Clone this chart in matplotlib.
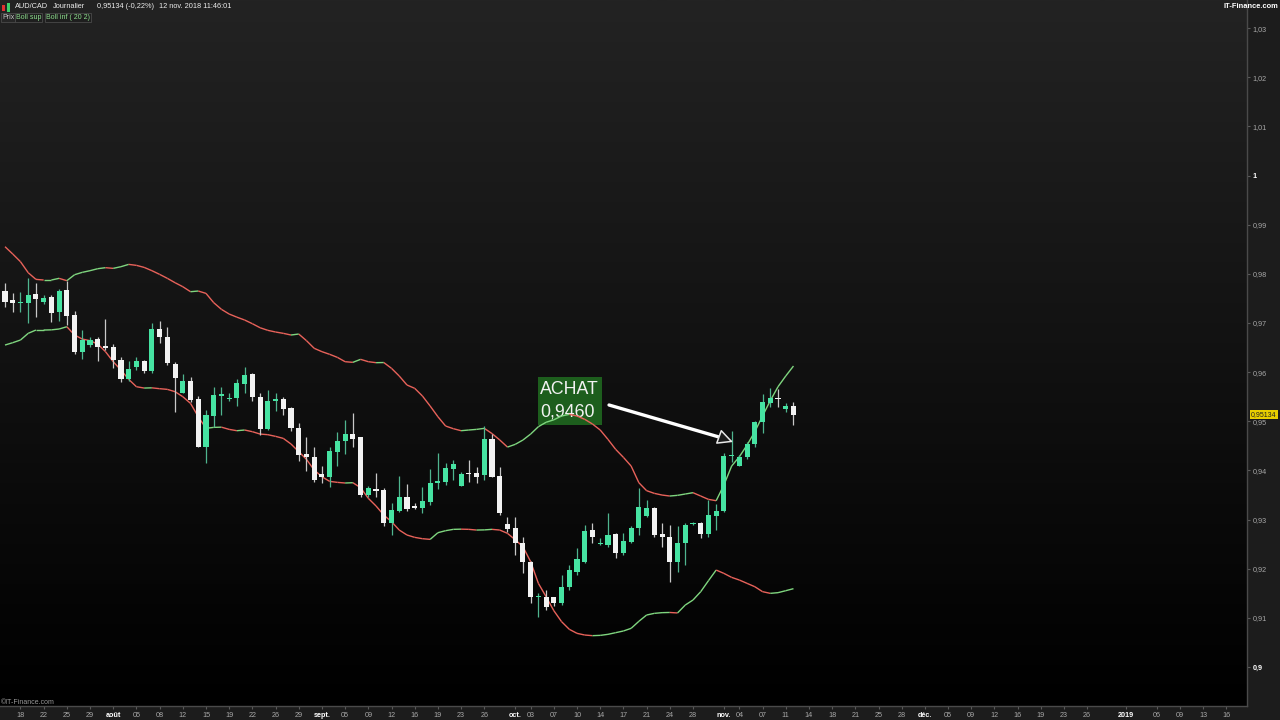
import numpy as np
import matplotlib
matplotlib.use("Agg")
import matplotlib.pyplot as plt
from matplotlib.collections import LineCollection
from matplotlib.colors import LinearSegmentedColormap
from matplotlib.patches import Rectangle
from matplotlib.transforms import blended_transform_factory

plt.rcParams['font.family'] = ['Liberation Sans', 'DejaVu Sans']

# AUD/CAD daily candles, 16 juil. -> 12 nov. 2018 (Sun-Fri sessions)
opens = [0.97650, 0.97460, 0.97406, 0.97399, 0.97582, 0.97426, 0.97521, 0.97216, 0.97670, 0.97168,
         0.96416, 0.96551, 0.96673, 0.96538, 0.96510, 0.96246, 0.95859, 0.96097, 0.96226, 0.96022,
         0.96884, 0.96721, 0.96165, 0.95581, 0.95826, 0.95446, 0.94483, 0.95107, 0.95520, 0.95446,
         0.95466, 0.95758, 0.95961, 0.95500, 0.94842, 0.95419, 0.95446, 0.95263, 0.94869, 0.94327,
         0.94279, 0.93927, 0.93859, 0.94374, 0.94598, 0.94740, 0.94673, 0.93493, 0.93628, 0.93601,
         0.92923, 0.93181, 0.93452, 0.93275, 0.93228, 0.93364, 0.93736, 0.93770, 0.94028, 0.93689,
         0.93933, 0.93940, 0.93906, 0.94638, 0.93886, 0.92909, 0.92822, 0.92530, 0.92143, 0.91418,
         0.91431, 0.91418, 0.91309, 0.91635, 0.91940, 0.92143, 0.92788, 0.92496, 0.92482, 0.92706,
         0.92326, 0.92550, 0.92822, 0.93072, 0.93228, 0.92706, 0.92652, 0.92143, 0.92516, 0.92909,
         0.92936, 0.92706, 0.93072, 0.93174, 0.94293, 0.94096, 0.94279, 0.94537, 0.94978, 0.95378,
         0.95480, 0.95242, 0.95317]
highs = [0.97806, 0.97602, 0.97636, 0.97921, 0.97806, 0.97562, 0.97569, 0.97697, 0.97860, 0.97250,
         0.96856, 0.96707, 0.96707, 0.97080, 0.96565, 0.96300, 0.96232, 0.96314, 0.96246, 0.97006,
         0.97046, 0.96924, 0.96199, 0.95961, 0.95907, 0.95513, 0.95230, 0.95690, 0.95704, 0.95568,
         0.95853, 0.96110, 0.95975, 0.95568, 0.95636, 0.95568, 0.95500, 0.95297, 0.94958, 0.94673,
         0.94469, 0.94089, 0.94469, 0.94774, 0.95025, 0.95161, 0.94673, 0.93689, 0.93954, 0.93649,
         0.93330, 0.93893, 0.93723, 0.93330, 0.93669, 0.94021, 0.94347, 0.94157, 0.94211, 0.93974,
         0.94211, 0.94076, 0.94903, 0.94740, 0.94076, 0.93059, 0.93059, 0.92652, 0.92157, 0.91499,
         0.91567, 0.91431, 0.91872, 0.92076, 0.92415, 0.92889, 0.92923, 0.92618, 0.93140, 0.92720,
         0.92720, 0.92869, 0.93635, 0.93398, 0.93249, 0.92923, 0.92889, 0.92869, 0.92923, 0.92957,
         0.92957, 0.93398, 0.93316, 0.94361, 0.94808, 0.94313, 0.94584, 0.95012, 0.95547, 0.95670,
         0.95649, 0.95364, 0.95398]
lows = [0.97318, 0.97229, 0.97229, 0.97006, 0.97114, 0.97385, 0.97012, 0.97046, 0.96958, 0.96361,
        0.96266, 0.96517, 0.96232, 0.96449, 0.96090, 0.95805, 0.95826, 0.96043, 0.95975, 0.95975,
        0.96585, 0.96144, 0.95195, 0.95568, 0.95398, 0.94469, 0.94157, 0.94890, 0.95127, 0.95419,
        0.95310, 0.95568, 0.95419, 0.94720, 0.94822, 0.95215, 0.95127, 0.94808, 0.94198, 0.93994,
        0.93771, 0.93737, 0.93669, 0.94089, 0.94334, 0.94469, 0.93465, 0.93465, 0.93465, 0.92869,
        0.92686, 0.93160, 0.93181, 0.93208, 0.93140, 0.93296, 0.93614, 0.93702, 0.93804, 0.93682,
        0.93770, 0.93750, 0.93804, 0.93859, 0.93092, 0.92753, 0.92279, 0.91906, 0.91296, 0.91024,
        0.91160, 0.91241, 0.91262, 0.91567, 0.91872, 0.92109, 0.92516, 0.92482, 0.92449, 0.92211,
        0.92279, 0.92530, 0.92686, 0.93059, 0.92652, 0.92448, 0.91736, 0.91940, 0.92075, 0.92889,
        0.92618, 0.92652, 0.92787, 0.93160, 0.94178, 0.94089, 0.94225, 0.94469, 0.94768, 0.95297,
        0.95297, 0.95195, 0.94924]
closes = [0.97433, 0.97413, 0.97426, 0.97562, 0.97480, 0.97508, 0.97195, 0.97657, 0.97141, 0.96416,
          0.96653, 0.96653, 0.96517, 0.96497, 0.96246, 0.95853, 0.96070, 0.96226, 0.96022, 0.96870,
          0.96721, 0.96178, 0.95887, 0.95826, 0.95432, 0.94469, 0.95121, 0.95534, 0.95541, 0.95466,
          0.95771, 0.95948, 0.95500, 0.94835, 0.95419, 0.95446, 0.95242, 0.94856, 0.94313, 0.94279,
          0.93805, 0.93859, 0.94401, 0.94605, 0.94740, 0.94645, 0.93499, 0.93635, 0.93588, 0.92936,
          0.93194, 0.93452, 0.93208, 0.93242, 0.93377, 0.93750, 0.93784, 0.94042, 0.94123, 0.93926,
          0.93920, 0.93872, 0.94638, 0.93872, 0.93126, 0.92808, 0.92516, 0.92143, 0.91418, 0.91438,
          0.91214, 0.91309, 0.91621, 0.91974, 0.92191, 0.92774, 0.92638, 0.92516, 0.92686, 0.92326,
          0.92564, 0.92822, 0.93262, 0.93228, 0.92686, 0.92638, 0.92143, 0.92516, 0.92889, 0.92930,
          0.92699, 0.93092, 0.93181, 0.94300, 0.94306, 0.94279, 0.94537, 0.94978, 0.95398, 0.95480,
          0.95446, 0.95317, 0.95134]

# Bollinger (20, 2) bands as drawn
boll_sup = [0.98552, 0.98403, 0.98247, 0.98023, 0.97887, 0.97874, 0.97874, 0.97908, 0.97860, 0.97982,
            0.98030, 0.98064, 0.98104, 0.98125, 0.98111, 0.98145, 0.98192, 0.98172, 0.98131, 0.98064,
            0.97989, 0.97908, 0.97819, 0.97738, 0.97636, 0.97650, 0.97602, 0.97413, 0.97277, 0.97182,
            0.97118, 0.97060, 0.96985, 0.96903, 0.96850, 0.96816, 0.96789, 0.96755, 0.96775, 0.96640,
            0.96484, 0.96416, 0.96362, 0.96300, 0.96212, 0.96199, 0.96260, 0.96212, 0.96192, 0.96195,
            0.96077, 0.95921, 0.95738, 0.95670, 0.95514, 0.95310, 0.95093, 0.94903, 0.94849, 0.94808,
            0.94822, 0.94835, 0.94856, 0.94750, 0.94620, 0.94475, 0.94530, 0.94618, 0.94740, 0.94890,
            0.94980, 0.95030, 0.95107, 0.95141, 0.95107, 0.95039, 0.94944, 0.94822, 0.94632, 0.94428,
            0.94266, 0.94089, 0.93750, 0.93588, 0.93533, 0.93499, 0.93479, 0.93493, 0.93520, 0.93547,
            0.93479, 0.93411, 0.93384, 0.93703, 0.94089, 0.94279, 0.94517, 0.94788, 0.95107, 0.95419,
            0.95703, 0.95921, 0.96124]
boll_inf = [0.96551, 0.96599, 0.96653, 0.96789, 0.96856, 0.96856, 0.96860, 0.96877, 0.96924, 0.96755,
            0.96673, 0.96639, 0.96571, 0.96416, 0.96212, 0.96043, 0.95853, 0.95703, 0.95676, 0.95680,
            0.95663, 0.95649, 0.95602, 0.95500, 0.95364, 0.95093, 0.94856, 0.94876, 0.94880, 0.94835,
            0.94808, 0.94822, 0.94788, 0.94740, 0.94727, 0.94693, 0.94652, 0.94537, 0.94381, 0.94225,
            0.94008, 0.93872, 0.93777, 0.93757, 0.93744, 0.93750, 0.93649, 0.93432, 0.93276, 0.93092,
            0.92957, 0.92787, 0.92686, 0.92638, 0.92611, 0.92597, 0.92733, 0.92774, 0.92801, 0.92805,
            0.92801, 0.92787, 0.92790, 0.92801, 0.92787, 0.92720, 0.92590, 0.92449, 0.92143, 0.91702,
            0.91431, 0.91146, 0.90923, 0.90767, 0.90685, 0.90651, 0.90638, 0.90644, 0.90665, 0.90699,
            0.90733, 0.90787, 0.90930, 0.91058, 0.91092, 0.91106, 0.91110, 0.91100, 0.91261, 0.91363,
            0.91533, 0.91756, 0.91973, 0.91905, 0.91824, 0.91770, 0.91702, 0.91634, 0.91533, 0.91499,
            0.91513, 0.91553, 0.91594]

# date axis: session index -> label
tick_idx = [2, 5, 8, 11, 14, 17, 20, 23, 26, 29, 32, 35, 38, 41, 44, 47, 50, 53, 56, 59, 62,
            66, 68, 71, 74, 77, 80, 83, 86, 89, 93, 95, 98, 101, 104, 107, 110, 113, 116,
            119, 122, 125, 128, 131, 134, 137, 140, 145, 149, 152, 155, 158]
tick_labels = ['18', '22', '25', '29', 'août', '05', '08', '12', '15', '19', '22', '26', '29',
               'sept.', '05', '09', '12', '16', '19', '23', '26', 'oct.', '03', '07', '10', '14',
               '17', '21', '24', '28', 'nov.', '04', '07', '11', '14', '18', '21', '25', '28',
               'déc.', '05', '09', '12', '16', '19', '23', '26', '2019', '06', '09', '13', '16']
month_labels = ['août', 'sept.', 'oct.', 'nov.', 'déc.', '2019']

price_ticks = [0.90, 0.91, 0.92, 0.93, 0.94, 0.95, 0.96, 0.97, 0.98, 0.99, 1.00, 1.01, 1.02, 1.03]
last_price = 0.95134
signal_text = ["ACHAT", "0,9460"]

CANDLE_UP = '#46e3a2'
CANDLE_DN = '#f2f2f2'
BAND_UP = '#7fd67f'
BAND_DN = '#e8625a'

W, H = 1280, 720
fig = plt.figure(figsize=(12.8, 7.2), dpi=100, facecolor='#1c1c1c')
ax = fig.add_axes([0, 14 / H, 1247 / W, 706 / H])
ax.set_facecolor('black')

x0, x1 = -0.647, 160.67
y0, y1 = 0.89207, 1.03571
ax.set_xlim(x0, x1)
ax.set_ylim(y0, y1)

# background gradient
grad = LinearSegmentedColormap.from_list('bg', ['#000000', '#232323'])
ax.imshow(np.linspace(0, 1, 256)[:, None], cmap=grad, aspect='auto', origin='lower',
          extent=[0, 1, 0, 1], transform=ax.transAxes, zorder=0)

# signal box under the bands
ax.add_patch(Rectangle((68.95, 0.94924), 77.23 - 68.95, 0.95900 - 0.94924,
                       facecolor='#1d5e1d', edgecolor='none', zorder=1))
ax.text(69.21, 0.95656, signal_text[0], color='#f2f2f2', fontsize=12.8, va='center', ha='left', zorder=2)
ax.text(69.21, 0.95188, signal_text[1], color='#f2f2f2', fontsize=12.8, va='center', ha='left', zorder=2)

# bollinger bands, coloured by slope
x = np.arange(len(closes))
for band in (boll_sup, boll_inf):
    v = np.asarray(band)
    pts = np.column_stack([x, v])
    segs = np.stack([pts[:-1], pts[1:]], axis=1)
    cols = np.where(np.diff(v) >= 0, BAND_UP, BAND_DN)
    ax.add_collection(LineCollection(segs, colors=cols, linewidths=1.0, zorder=3))

# candles
o = np.asarray(opens)
c = np.asarray(closes)
up = c >= o
wick_cols = np.where(up, '#4fb58f', '#c8c8c8')
ax.vlines(x, lows, highs, colors=wick_cols, linewidth=0.9, zorder=4)
body_lo = np.minimum(o, c)
body_h = np.maximum(np.abs(c - o), 0.0003)
ax.bar(x, body_h, bottom=body_lo, width=0.66, color=np.where(up, CANDLE_UP, CANDLE_DN),
       linewidth=0, zorder=5)

# arrow to the entry: thick shaft, thin hollow head
tip = (94.18, 0.94578)
base = (92.56, 0.94671)
ax.annotate('', xy=base, xytext=(78.14, 0.95331),
            arrowprops=dict(arrowstyle='-', lw=2.4, color='white', shrinkA=0, shrinkB=0),
            zorder=6)
ax.annotate('', xy=tip, xytext=base,
            arrowprops=dict(arrowstyle='-|>,head_length=1.0,head_width=0.5', lw=1.1,
                            fc='#1b1b1b', ec='#e8e8e8', shrinkA=0, shrinkB=0,
                            mutation_scale=9.5),
            zorder=7)

# axes styling
for s in ('top', 'left'):
    ax.spines[s].set_visible(False)
for s in ('right', 'bottom'):
    ax.spines[s].set_color('#4a4a4a')
    ax.spines[s].set_linewidth(1.0)

ax.yaxis.tick_right()
ax.set_yticks(price_ticks)
ylabs = []
for v in price_ticks:
    s = ('%.2f' % v).rstrip('0').rstrip('.').replace('.', ',')
    ylabs.append(s)
ax.set_yticklabels(ylabs)
ax.tick_params(axis='y', length=2, pad=2, colors='#5a5a5a', labelcolor='#a8a8a8', labelsize=5.2)
for t in ax.get_yticklabels():
    if t.get_text() in ('1', '0,9'):
        t.set_color('white')
        t.set_fontweight('bold')

ax.set_xticks(tick_idx)
ax.set_xticklabels(tick_labels)
ax.tick_params(axis='x', length=2, pad=2.2, colors='#5a5a5a', labelcolor='#a8a8a8', labelsize=5.2)
for t in ax.get_xticklabels():
    if t.get_text() in month_labels:
        t.set_color('white')
        t.set_fontweight('bold')

# last price tag on the right scale
trans = blended_transform_factory(ax.transAxes, ax.transData)
ax.text(1251 / 1247, last_price, ('%.5f' % last_price).replace('.', ','), transform=trans,
        fontsize=5.0, color='#202020', ha='left', va='center', clip_on=False, zorder=10,
        bbox=dict(boxstyle='square,pad=0.15', fc='#e8cf00', ec='none'))

# header
def fx(px):
    return px / W


def fy(py):
    return 1 - py / H


fig.add_artist(Rectangle((fx(2), fy(11)), 3 / W, 6 / H, transform=fig.transFigure,
                         facecolor='#e03030', edgecolor='none'))
fig.add_artist(Rectangle((fx(6.5), fy(12)), 3 / W, 9 / H, transform=fig.transFigure,
                         facecolor='#3ad06a', edgecolor='none'))
head = [(15, 'AUD/CAD'), (53, 'Journalier'), (97, '0,95134 (-0,22%)'), (159, '12 nov. 2018 11:46:01')]
for px, txt in head:
    fig.text(fx(px), fy(7), txt, color='#ececec', fontsize=5.3, va='center', ha='left')

fig.text(fx(2), fy(17.5), 'Prix', color='#c8c8c8', fontsize=5.0, va='center', ha='left',
         bbox=dict(boxstyle='square,pad=0.15', fc='#262626', ec='#4a4a4a', lw=0.6))
fig.text(fx(16), fy(17.5), 'Boll sup', color='#8ee08e', fontsize=5.0, va='center', ha='left',
         bbox=dict(boxstyle='square,pad=0.15', fc='#1e1e1e', ec='#4a4a4a', lw=0.6))
fig.text(fx(46), fy(17.5), 'Boll inf ( 20 2)', color='#8ee08e', fontsize=5.0, va='center', ha='left',
         bbox=dict(boxstyle='square,pad=0.15', fc='#1e1e1e', ec='#4a4a4a', lw=0.6))

fig.text(fx(1278), fy(7), 'IT-Finance.com', color='white', fontsize=5.4, fontweight='bold',
         va='center', ha='right')
fig.text(fx(1), fy(702), '©IT-Finance.com', color='#9a9a9a', fontsize=5.0, va='center', ha='left')

fig.savefig('out.png', dpi=100, facecolor=fig.get_facecolor())
